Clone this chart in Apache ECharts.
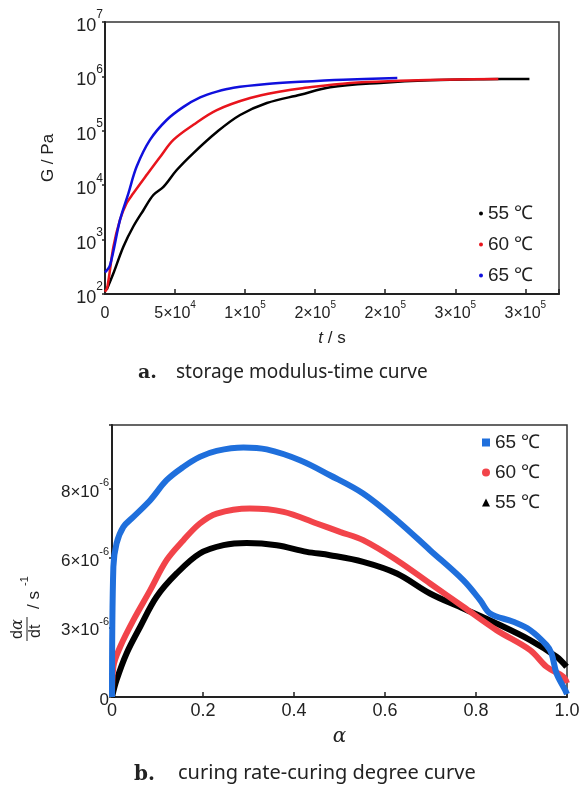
<!DOCTYPE html>
<html>
<head>
<meta charset="utf-8">
<script src="https://cdn.jsdelivr.net/npm/echarts@6/dist/echarts.min.js"></script>
<style>
html,body{margin:0;padding:0;background:#fff;}
#main{width:584px;height:786px;}
</style>
</head>
<body>
<div id="main"></div>
<script>
// chart a: storage modulus G (Pa) vs time t (s)
var t55 = [1200, 6000, 13100, 20200, 27400, 34500, 41700, 51200, 63100, 79800, 96400, 115500, 139300, 160700, 196400, 232000, 270000, 302900];
var g55 = [120, 240, 740, 1740, 3470, 6600, 9300, 19000, 39000, 95000, 195000, 324000, 460000, 630000, 760000, 850000, 890000, 900000];
var t60 = [0, 1700, 6000, 10700, 15500, 20200, 29800, 39300, 48800, 63100, 79800, 103600, 127400, 139300, 175000, 210000, 250000, 280700];
var g60 = [110, 135, 740, 2300, 4700, 7100, 15500, 33000, 68000, 129000, 240000, 400000, 540000, 600000, 760000, 830000, 880000, 900000];
var t65 = [0, 3600, 10700, 16700, 22600, 32100, 44000, 56000, 67900, 79800, 91700, 115500, 139300, 170000, 208600];
var g65 = [250, 340, 2300, 7100, 22000, 68000, 158000, 275000, 410000, 525000, 620000, 725000, 795000, 870000, 930000];
var xTickLabelsA = [['0', ''], ['5×10', '4'], ['1×10', '5'], ['2×10', '5'], ['2×10', '5'], ['3×10', '5'], ['3×10', '5']];

// chart b: curing rate (×10^-6 s^-1) vs curing degree alpha
var a65 = [0, 0.003, 0.010, 0.025, 0.047, 0.084, 0.120, 0.157, 0.193, 0.230, 0.289, 0.340, 0.413, 0.479, 0.552, 0.626, 0.699, 0.772, 0.809, 0.831, 0.882, 0.919, 0.955, 0.966, 0.977, 0.996, 1.0];
var r65 = [0, 4.69, 5.53, 6.13, 6.49, 7.09, 7.81, 8.29, 8.65, 8.87, 8.99, 8.92, 8.53, 7.99, 7.33, 6.37, 5.29, 4.21, 3.49, 3.01, 2.71, 2.41, 1.87, 1.57, 0.85, 0.25, 0.1];
var a60 = [0, 0.003, 0.018, 0.047, 0.084, 0.120, 0.157, 0.193, 0.230, 0.303, 0.377, 0.450, 0.501, 0.552, 0.626, 0.699, 0.772, 0.845, 0.919, 0.955, 0.992, 1.0];
var r60 = [0, 1.09, 1.81, 2.77, 3.85, 4.93, 5.65, 6.25, 6.61, 6.79, 6.67, 6.25, 5.95, 5.65, 4.93, 4.09, 3.25, 2.41, 1.69, 1.09, 0.73, 0.5];
var a55 = [0, 0.010, 0.032, 0.062, 0.098, 0.142, 0.193, 0.245, 0.296, 0.362, 0.428, 0.479, 0.552, 0.626, 0.699, 0.772, 0.845, 0.919, 0.977, 0.999];
var r55 = [0, 0.61, 1.57, 2.53, 3.61, 4.45, 5.17, 5.47, 5.55, 5.47, 5.23, 5.11, 4.87, 4.45, 3.73, 3.19, 2.65, 2.05, 1.45, 1.09];
var yTickLabelsB = [['0', ''], ['3×10', '-6'], ['6×10', '-6'], ['8×10', '-6']];

function pairs(xs, ys) {
  return xs.map(function (x, i) { return [x, ys[i]]; });
}

var FONT = 'Liberation Sans';
function supRich(base, small, lift) {
  return {
    b: {fontSize: base, lineHeight: base + lift, verticalAlign: 'bottom', fontFamily: FONT, color: '#222'},
    s: {fontSize: small, lineHeight: small, verticalAlign: 'top', fontFamily: FONT, color: '#222'}
  };
}
function supFormatter(list) {
  return function (v, i) {
    var l = list[i];
    if (!l) return '';
    return l[1] ? '{b|' + l[0] + '}{s|' + l[1] + '}' : '{b|' + l[0] + '}';
  };
}

var myChart = echarts.init(document.getElementById('main'));

option = {
  backgroundColor: '#fff',
  animation: false,
  grid: [
    {left: 105, top: 22, width: 454, height: 272, show: true, borderColor: '#333', borderWidth: 1.5},
    {left: 112, top: 425, width: 455, height: 272, show: true, borderColor: '#333', borderWidth: 1.5}
  ],
  legend: [
    {
      orient: 'vertical', left: 474, top: 199, itemGap: 12,
      itemWidth: 4, itemHeight: 4, icon: 'circle',
      textStyle: {fontSize: 19, fontFamily: FONT, color: '#222'},
      data: ['55 ℃', '60 ℃', '65 ℃']
    },
    {
      orient: 'vertical', left: 477, top: 428, itemGap: 11,
      itemWidth: 8, itemHeight: 8,
      textStyle: {fontSize: 19, fontFamily: FONT, color: '#222'},
      data: [
        {name: '65 ℃ ', icon: 'rect'},
        {name: '60 ℃ ', icon: 'circle'},
        {name: '55 ℃ ', icon: 'triangle'}
      ]
    }
  ],
  xAxis: [
    {
      gridIndex: 0, type: 'value', min: 0, max: 324000, interval: 50000,
      name: '{i|t} / s', nameLocation: 'middle', nameGap: 36,
      nameTextStyle: {fontSize: 17, fontFamily: FONT, color: '#222',
        rich: {i: {fontSize: 17, fontStyle: 'italic', fontFamily: FONT, color: '#222'}}},
      axisLine: {lineStyle: {color: '#222', width: 2}},
      axisTick: {inside: true, length: 5, lineStyle: {color: '#222', width: 1.5}},
      splitLine: {show: false},
      axisLabel: {margin: 6, formatter: supFormatter(xTickLabelsA), rich: supRich(16, 10, 6)}
    },
    {
      gridIndex: 1, type: 'value', min: 0, max: 1, interval: 0.2,
      name: 'α', nameLocation: 'middle', nameGap: 30,
      nameTextStyle: {fontSize: 20, fontStyle: 'italic', fontFamily: 'DejaVu Serif', color: '#222'},
      axisLine: {lineStyle: {color: '#222', width: 2}},
      axisTick: {inside: true, length: 5, lineStyle: {color: '#222', width: 1.5}},
      splitLine: {show: false},
      axisLabel: {
        margin: 5, fontSize: 18, fontFamily: FONT, color: '#222',
        formatter: function (v) { return v === 0 ? '0' : v.toFixed(1); }
      }
    }
  ],
  yAxis: [
    {
      gridIndex: 0, type: 'log', logBase: 10, min: 100, max: 1e7,
      name: 'G / Pa', nameLocation: 'middle', nameGap: 48, nameRotate: 90,
      nameTextStyle: {fontSize: 17, fontFamily: FONT, color: '#222'},
      axisLine: {lineStyle: {color: '#222', width: 2}},
      axisTick: {length: 3, lineStyle: {color: '#222', width: 1.5}},
      minorTick: {show: false},
      splitLine: {show: false},
      axisLabel: {
        margin: 2,
        formatter: function (v) {
          return '{b|10}{s|' + Math.round(Math.log10(v)) + '}';
        },
        rich: supRich(18, 12, 8)
      }
    },
    {
      gridIndex: 1, type: 'value', min: 0, max: 9.8, interval: 2.5,
      axisLine: {lineStyle: {color: '#222', width: 2}},
      axisTick: {length: 3, lineStyle: {color: '#222', width: 1.5}},
      splitLine: {show: false},
      axisLabel: {margin: 3, formatter: supFormatter(yTickLabelsB), rich: supRich(17, 11, 6)}
    }
  ],
  graphic: [
    {
      type: 'text', left: 138, top: 364,
      style: {text: 'a.', font: 'bold 19px "DejaVu Serif"', fill: '#222'}
    },
    {
      type: 'text', left: 176, top: 363,
      style: {text: 'storage modulus-time curve', font: '19px "Noto Sans"', fill: '#222'}
    },
    {
      type: 'text', left: 134, top: 765,
      style: {text: 'b.', font: 'bold 20px "DejaVu Serif"', fill: '#222'}
    },
    {
      type: 'text', left: 178, top: 763,
      style: {text: 'curing rate-curing degree curve', font: '20px "Noto Sans"', fill: '#222'}
    },
    {
      type: 'group', x: 27, y: 641, rotation: Math.PI / 2,
      children: [
        {type: 'text', x: 2, y: -17, style: {text: 'd', font: '16px "Liberation Sans"', fill: '#222'}},
        {type: 'text', x: 11, y: -17, style: {text: 'α', font: 'italic 16px "DejaVu Serif"', fill: '#222'}},
        {type: 'line', shape: {x1: 0, y1: 0, x2: 24, y2: 0}, style: {stroke: '#222', lineWidth: 1}},
        {type: 'text', x: 3, y: 1, style: {text: 'dt', font: '16px "Liberation Sans"', fill: '#222'}},
        {type: 'text', x: 32, y: -1, style: {text: '/ s', font: '17px "Liberation Sans"', fill: '#222'}},
        {type: 'text', x: 55, y: -8, style: {text: '-1', font: '11px "Liberation Sans"', fill: '#222'}}
      ]
    }
  ],
  series: [
    {name: '55 ℃', type: 'line', xAxisIndex: 0, yAxisIndex: 0, smooth: 0.35, showSymbol: false,
      color: '#000', lineStyle: {width: 2.5}, data: pairs(t55, g55)},
    {name: '60 ℃', type: 'line', xAxisIndex: 0, yAxisIndex: 0, smooth: 0.35, showSymbol: false,
      color: '#e8141c', lineStyle: {width: 2.5}, data: pairs(t60, g60)},
    {name: '65 ℃', type: 'line', xAxisIndex: 0, yAxisIndex: 0, smooth: 0.35, showSymbol: false,
      color: '#1010dd', lineStyle: {width: 2.5}, data: pairs(t65, g65)},
    {name: '55 ℃ ', type: 'line', xAxisIndex: 1, yAxisIndex: 1, smooth: 0.35, showSymbol: false,
      color: '#000', lineStyle: {width: 6}, data: pairs(a55, r55)},
    {name: '60 ℃ ', type: 'line', xAxisIndex: 1, yAxisIndex: 1, smooth: 0.35, showSymbol: false,
      color: '#f2444a', lineStyle: {width: 6}, data: pairs(a60, r60)},
    {name: '65 ℃ ', type: 'line', xAxisIndex: 1, yAxisIndex: 1, smooth: 0.35, showSymbol: false,
      color: '#1f6fdc', lineStyle: {width: 6}, data: pairs(a65, r65)}
  ]
};

myChart.setOption(option, true);
</script>
</body>
</html>
